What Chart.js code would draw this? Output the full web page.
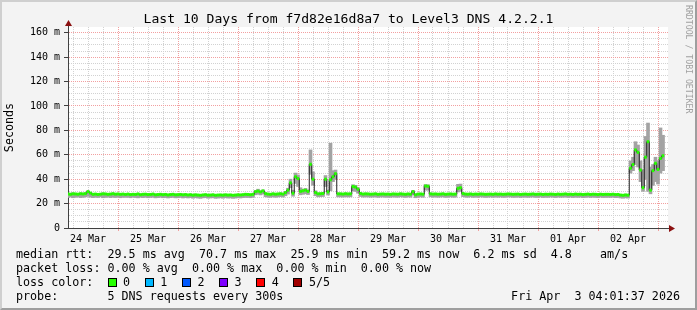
<!DOCTYPE html>
<html>
<head>
<meta charset="utf-8">
<script src="https://cdn.jsdelivr.net/npm/chart.js@4.4.1/dist/chart.umd.min.js"></script>
<style>
  body { margin: 0; }
  #wrap { position: relative; width: 697px; height: 310px; background: #f3f3f3; font-family: "DejaVu Sans Mono", monospace; color: #000; overflow: hidden; }
  #frame { position: absolute; left: 0; top: 0; width: 697px; height: 310px; box-sizing: border-box; border: 2px solid; border-color: #cfcfcf #9e9e9e #9e9e9e #cfcfcf; pointer-events: none; }
  canvas { position: absolute; left: 0; top: 0; }
  .t { position: absolute; white-space: pre; font-size: 11.7px; line-height: 14px; }
  .box { position: absolute; width: 7px; height: 7px; border: 1px solid #000; top: 278px; }
</style>
</head>
<body>
<div id="wrap">
  <canvas id="rrd" width="697" height="310"></canvas>
  <div class="t" style="left:0;width:697px;text-align:center;top:11px;font-size:13.1px;line-height:16px">Last 10 Days from f7d82e16d8a7 to Level3 DNS 4.2.2.1</div>
  <div class="t" style="left:684px;top:5px;writing-mode:vertical-rl;font-size:8.2px;line-height:9px;color:#a0a0a0">RRDTOOL / TOBI OETIKER</div>
  <div class="t" style="left:16px;top:247px">median rtt:  29.5 ms avg  70.7 ms max  25.9 ms min  59.2 ms now  6.2 ms sd  4.8    am/s</div>
  <div class="t" style="left:16px;top:261px">packet loss: 0.00 % avg  0.00 % max  0.00 % min  0.00 % now</div>
  <div class="t" style="left:16px;top:275px">loss color:</div>
  <div id="loss"></div>
  <div class="t" style="left:16px;top:289px">probe:       5 DNS requests every 300s</div>
  <div class="t" style="right:17px;top:289px">Fri Apr  3 04:01:37 2026</div>
  <div id="frame"></div>
</div>
<script>
// hours since 24 Mar 04:00, one value per hour
const dayLabels = ["24 Mar", "25 Mar", "26 Mar", "27 Mar", "28 Mar", "29 Mar", "30 Mar", "31 Mar", "01 Apr", "02 Apr"];
const lossLabels = ["0", "1", "2", "3", "4", "5/5"];
const lossColors = ["#26ff00", "#00b8ff", "#0059ff", "#7e00ff", "#ff0000", "#a10000"];

const medianRtt = [
  27.8, 27.6, 28.0, 27.9, 27.7, 28.1, 27.9, 28.2, 29.8, 28.6, 27.6, 27.8, 27.5, 27.7, 28.0, 27.9, 27.6, 27.8, 28.1, 27.7, 27.9, 27.6, 27.8, 27.5,
  27.8, 27.4, 27.6, 27.5, 27.9, 27.3, 27.6, 27.7, 27.4, 27.5, 27.8, 27.2, 27.4, 27.6, 27.3, 27.5, 27.1, 27.4, 27.6, 27.2, 27.3, 27.5, 27.2, 27.4,
  27.1, 27.3, 26.9, 27.2, 27.0, 26.8, 27.1, 27.3, 26.9, 27.0, 27.2, 26.8, 27.0, 27.1, 26.9, 27.2, 27.0, 27.1, 26.8, 27.0, 27.2, 27.1, 27.3, 27.6,
  27.5, 27.3, 27.6, 29.8, 30.2, 29.6, 30.4, 28.2, 27.8, 27.6, 28.0, 27.7, 27.9, 28.1, 27.8, 29.0, 31.0, 37.0, 28.5, 42.0, 40.5, 30.0, 30.5, 31.0,
  30.0, 52.2, 40.0, 29.0, 28.0, 28.1, 28.3, 40.0, 29.5, 39.5, 42.0, 44.5, 28.0, 28.0, 27.8, 28.1, 27.9, 28.0, 34.0, 33.5, 31.8, 28.3, 27.8, 28.0,
  27.9, 27.7, 27.8, 28.0, 27.6, 27.8, 27.9, 27.7, 27.8, 27.6, 27.9, 27.8, 27.7, 28.0, 27.8, 27.6, 27.9, 27.7, 29.8, 27.2, 27.8, 27.9, 27.7, 34.4,
  34.2, 28.0, 27.8, 27.9, 27.7, 27.8, 28.0, 27.6, 27.8, 27.9, 27.7, 27.8, 32.5, 33.0, 28.2, 27.8, 27.7, 27.9, 27.6, 27.8, 27.7, 27.9, 27.8, 27.6,
  27.7, 27.8, 27.6, 27.9, 27.7, 27.8, 27.6, 27.7, 27.9, 27.8, 27.6, 27.7, 27.8, 27.5, 27.7, 27.8, 27.6, 27.7, 27.9, 27.6, 27.7, 27.8, 27.5, 27.7,
  27.6, 27.8, 27.7, 27.5, 27.8, 27.6, 27.7, 27.9, 27.6, 27.7, 27.5, 27.8, 27.6, 27.7, 27.4, 27.6, 27.8, 27.5, 27.7, 27.6, 27.4, 27.7, 27.5, 27.6,
  27.6, 27.5, 27.7, 27.4, 27.5, 27.0, 26.8, 27.1, 26.9, 49.0, 52.0, 64.0, 62.0, 47.5, 33.0, 58.0, 70.7, 31.0, 47.0, 53.0, 48.0, 57.0, 59.2, null
];

const smokeMin = [
  25.0, 25.3, 24.8, 25.2, 25.4, 24.9, 25.1, 25.5, 26.0, 25.2, 24.9, 25.3, 25.0, 25.4, 24.8, 25.1, 25.3, 24.9, 25.2, 25.0, 25.4, 24.8, 25.1, 25.2,
  25.1, 24.8, 25.2, 25.0, 24.7, 25.1, 24.9, 25.3, 24.8, 25.0, 25.2, 24.7, 24.9, 25.1, 24.8, 25.0, 24.6, 24.9, 25.1, 24.7, 24.8, 25.0, 24.6, 24.9,
  24.6, 24.9, 24.4, 24.8, 24.5, 24.3, 24.7, 24.9, 24.4, 24.6, 24.8, 24.3, 24.5, 24.7, 24.4, 24.8, 24.5, 24.6, 24.3, 24.5, 24.8, 24.6, 24.9, 25.1,
  25.0, 24.8, 25.1, 27.2, 27.6, 27.1, 27.8, 25.6, 25.3, 25.1, 25.5, 25.2, 25.4, 25.6, 25.3, 26.4, 27.8, 33.0, 26.0, 36.5, 34.0, 27.2, 27.6, 28.0,
  27.4, 44.0, 35.0, 26.4, 25.5, 25.6, 25.8, 34.0, 27.0, 30.5, 38.0, 40.0, 25.5, 25.4, 25.3, 25.6, 25.4, 25.5, 30.5, 30.0, 28.5, 25.8, 25.3, 25.5,
  25.4, 25.2, 25.3, 25.5, 25.1, 25.3, 25.4, 25.2, 25.3, 25.1, 25.4, 25.3, 25.2, 25.5, 25.3, 25.1, 25.4, 25.2, 27.0, 24.8, 25.3, 25.4, 25.2, 31.0,
  31.0, 25.5, 25.3, 25.4, 25.2, 25.3, 25.5, 25.1, 25.3, 25.4, 25.2, 25.3, 29.5, 30.0, 25.7, 25.3, 25.2, 25.4, 25.1, 25.3, 25.2, 25.4, 25.3, 25.1,
  25.2, 25.3, 25.1, 25.4, 25.2, 25.3, 25.1, 25.2, 25.4, 25.3, 25.1, 25.2, 25.3, 25.0, 25.2, 25.3, 25.1, 25.2, 25.4, 25.1, 25.2, 25.3, 25.0, 25.2,
  25.1, 25.3, 25.2, 25.0, 25.3, 25.1, 25.2, 25.4, 25.1, 25.2, 25.0, 25.3, 25.1, 25.2, 24.9, 25.1, 25.3, 25.0, 25.2, 25.1, 24.9, 25.2, 25.0, 25.1,
  25.1, 25.0, 25.2, 24.9, 25.0, 24.6, 24.4, 24.7, 24.5, 45.0, 47.0, 52.0, 50.0, 38.0, 30.0, 40.0, 30.0, 28.0, 35.0, 38.0, 36.0, 45.0, 47.0, null
];

const smokeMax = [
  28.4, 28.6, 28.9, 28.3, 28.2, 28.7, 28.5, 28.8, 30.4, 29.1, 28.2, 28.4, 28.1, 28.3, 28.8, 28.4, 28.2, 28.3, 28.7, 28.2, 28.4, 28.1, 28.3, 28.0,
  28.3, 28.0, 28.2, 28.1, 28.5, 27.9, 28.2, 28.3, 28.0, 28.1, 28.4, 27.8, 28.0, 28.2, 27.9, 28.1, 27.7, 28.0, 28.2, 27.8, 27.9, 28.1, 27.8, 28.0,
  27.6, 27.8, 27.4, 27.7, 27.5, 27.3, 27.6, 27.8, 27.4, 27.5, 27.7, 27.3, 27.5, 27.6, 27.4, 27.7, 27.5, 27.6, 27.3, 27.5, 27.7, 27.6, 27.8, 28.1,
  28.0, 27.8, 28.1, 30.6, 31.8, 30.3, 31.2, 28.8, 28.4, 28.2, 28.6, 28.3, 28.5, 28.7, 28.4, 30.0, 32.6, 40.0, 31.0, 45.0, 43.5, 33.0, 31.8, 32.4,
  31.2, 64.0, 46.0, 30.5, 28.6, 28.7, 28.9, 43.0, 31.0, 69.5, 47.0, 47.5, 28.6, 28.6, 28.4, 28.7, 28.5, 28.6, 35.5, 35.0, 33.0, 28.9, 28.4, 28.6,
  28.5, 28.3, 28.4, 28.6, 28.2, 28.4, 28.5, 28.3, 28.4, 28.2, 28.5, 28.4, 28.3, 28.6, 28.4, 28.2, 28.5, 28.3, 30.8, 27.9, 28.4, 28.5, 28.3, 35.6,
  35.4, 28.6, 28.4, 28.5, 28.3, 28.4, 28.6, 28.2, 28.4, 28.5, 28.3, 28.4, 35.8, 36.0, 28.8, 28.4, 28.3, 28.5, 28.2, 28.4, 28.3, 28.5, 28.4, 28.2,
  28.3, 28.4, 28.2, 28.5, 28.3, 28.4, 28.2, 28.3, 28.5, 28.4, 28.2, 28.3, 28.4, 28.1, 28.3, 28.4, 28.2, 28.3, 28.5, 28.2, 28.3, 28.4, 28.1, 28.3,
  28.2, 28.4, 28.3, 28.1, 28.4, 28.2, 28.3, 28.5, 28.2, 28.3, 28.1, 28.4, 28.2, 28.3, 28.0, 28.2, 28.4, 28.1, 28.3, 28.2, 28.0, 28.3, 28.1, 28.2,
  28.1, 28.0, 28.2, 27.9, 28.0, 27.6, 27.4, 27.7, 27.5, 55.0, 58.0, 70.7, 68.0, 55.0, 48.0, 75.0, 86.0, 50.0, 52.0, 58.0, 55.0, 82.0, 76.0, null
];

// loss color legend boxes
const lossDiv = document.getElementById("loss");
lossLabels.forEach((lbl, i) => {
  const b = document.createElement("div");
  b.className = "box";
  b.style.left = (108 + 37 * i) + "px";
  b.style.background = lossColors[i];
  lossDiv.appendChild(b);
  const t = document.createElement("div");
  t.className = "t";
  t.style.left = (123 + 37.2 * i) + "px";
  t.style.top = "275px";
  t.textContent = lbl;
  lossDiv.appendChild(t);
});

const smokeData = [];
const medianData = [];
medianRtt.forEach((v, i) => {
  if (v === null) return;
  medianData.push({ x: i, y: v });
  smokeData.push({ x: i, y: [smokeMin[i], smokeMax[i]] });
});

const mono = "'DejaVu Sans Mono', monospace";

//white plot area + axis arrows
const rrdFrame = {
  id: "rrdFrame",
  beforeDraw(chart) {
    const { ctx, chartArea: a } = chart;
    ctx.save();
    ctx.fillStyle = "#ffffff";
    ctx.fillRect(a.left, a.top, a.right - a.left, a.bottom - a.top);
    ctx.restore();
  },
  afterDraw(chart) {
    const { ctx, chartArea: a } = chart;
    const lx = Math.round(a.left) + 0.5, by = Math.round(a.bottom) + 0.5;
    ctx.save();
    ctx.strokeStyle = "#404040";
    ctx.lineWidth = 1;
    ctx.beginPath();
    ctx.moveTo(lx, a.top); ctx.lineTo(lx, a.top - 3);
    ctx.moveTo(a.right, by); ctx.lineTo(a.right + 3, by);
    ctx.stroke();
    ctx.fillStyle = "#8b1010";
    ctx.beginPath();
    ctx.moveTo(lx, a.top - 7); ctx.lineTo(lx - 3.5, a.top - 1); ctx.lineTo(lx + 3.5, a.top - 1);
    ctx.closePath(); ctx.fill();
    ctx.beginPath();
    ctx.moveTo(a.right + 7, by); ctx.lineTo(a.right + 1, by - 3.5); ctx.lineTo(a.right + 1, by + 3.5);
    ctx.closePath(); ctx.fill();
    ctx.restore();
  }
};

const chart = new Chart(document.getElementById("rrd").getContext("2d"), {
  type: "bar",
  data: {
    datasets: [
      { type: "line", data: medianData, showLine: false, pointStyle: "line", pointRadius: 1.3,
        pointBorderWidth: 3, pointBorderColor: lossColors[0], pointBackgroundColor: lossColors[0], order: 0 },
      { type: "line", data: medianData, stepped: "middle", borderColor: "#202020", borderWidth: 1,
        pointRadius: 0, fill: false, order: 1 },
      { type: "bar", data: smokeData, backgroundColor: "#a3a3a3", borderWidth: 0,
        barThickness: 3, order: 2 }
    ]
  },
  options: {
    responsive: false,
    devicePixelRatio: 1,
    animation: false,
    events: [],
    layout: { padding: { left: 0, right: 29, top: 27, bottom: 62 } },
    plugins: { legend: { display: false }, tooltip: { enabled: false } },
    scales: {
      x: {
        type: "linear", min: 0, max: 240, offset: false,
        afterFit(s) { s.height = 20; },
        afterBuildTicks(s) {
          const t = [];
          for (let h = 2; h < 240; h += 6) t.push({ value: h });
          s.ticks = t;
        },
        ticks: {
          autoSkip: false, maxRotation: 0, padding: 2, color: "#000",
          font: { family: mono, size: 10 },
          callback: (v) => ((v - 8) % 24 === 0 ? dayLabels[(v - 8) / 24] : "")
        },
        grid: {
          offset: false, lineWidth: 1, tickLength: 3,
          color: (c) => ((c.tick.value - 20) % 24 === 0 ? "#f2a0a0" : "#d2d2d2"),
          tickColor: (c) => ((c.tick.value - 20) % 24 === 0 ? "#f2a0a0" : "rgba(0,0,0,0)")
        },
        border: { color: "#404040", width: 1, dash: [1, 1] }
      },
      y: {
        min: 0, max: 164.7,
        afterFit(s) { s.width = 68; },
        afterBuildTicks(s) {
          const t = [];
          for (let v = 0; v <= 160; v += 5) t.push({ value: v });
          s.ticks = t;
        },
        ticks: {
          padding: 4, color: "#000", autoSkip: false,
          font: { family: mono, size: 10 },
          callback: (v) => (v % 20 === 0 ? (v === 0 ? "0" : v + " m") : "")
        },
        grid: {
          lineWidth: 1, tickLength: 4,
          color: (c) => (c.tick.value % 20 === 0 ? "#f2a0a0" : "#d2d2d2"),
          tickColor: (c) => (c.tick.value % 20 === 0 ? "#404040" : "rgba(0,0,0,0)")
        },
        border: { color: "#404040", width: 1, dash: [1, 1] },
        title: { display: true, text: "Seconds", color: "#000", padding: { top: 3, bottom: 0 },
          font: { family: mono, size: 11.7 } }
      }
    }
  },
  plugins: [rrdFrame]
});
</script>
</body>
</html>
